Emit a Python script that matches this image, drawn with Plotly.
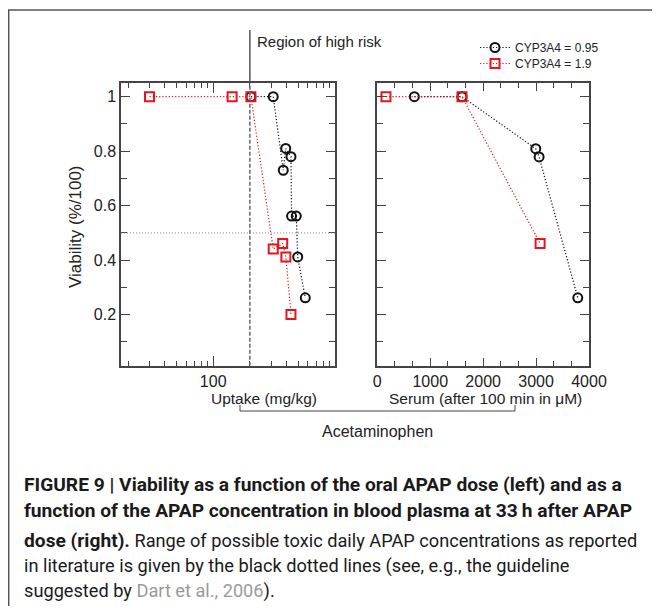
import plotly.graph_objects as go

# ---------------- data ----------------
# Left panel: oral uptake (mg/kg) vs viability
uptake_cyp095 = [204, 311, 376, 394, 435, 440, 481, 494, 570]
viab_uptake_cyp095 = [1.0, 1.0, 0.73, 0.81, 0.78, 0.562, 0.562, 0.412, 0.262]
uptake_cyp19 = [30, 143, 204, 311, 372, 395, 435]
viab_uptake_cyp19 = [1.0, 1.0, 1.0, 0.441, 0.461, 0.412, 0.201]

# Right panel: serum concentration (uM) vs viability
serum_cyp095 = [700, 1600, 2994, 3057, 3788]
viab_serum_cyp095 = [1.0, 1.0, 0.809, 0.779, 0.262]
serum_cyp19 = [164, 1600, 3076]
viab_serum_cyp19 = [1.0, 1.0, 0.461]

high_risk_uptake = 200      # mg/kg
viability_threshold = 0.5

series_names = ["CYP3A4 = 0.95", "CYP3A4 = 1.9"]
y_major = [0.2, 0.4, 0.6, 0.8, 1.0]
y_major_text = ["0.2", "0.4", "0.6", "0.8", "1"]
y_minor = [0.1, 0.3, 0.5, 0.7, 0.9]
x_log_major = [100]
x_log_minor = [20, 30, 40, 50, 60, 70, 80, 90, 200, 300, 400, 500, 600, 700, 800, 900]
x_lin_major = [0, 1000, 2000, 3000, 4000]
x_lin_minor = [333.3, 666.7, 1333.3, 1666.7, 2333.3, 2666.7, 3333.3, 3666.7]

# ---------------- styling ----------------
# the page body has an 8px margin; keep the figure fully inside the window
OFF = 8
W, H = 644, 598
FONT = "Liberation Sans"
CAPFONT = "Roboto"
AX = "#444444"
BLACK = "#111111"
RED = "#e8141c"


def px_x(p):
    return (p - OFF) / W


def px_y(p):
    return 1 - (p - OFF) / H


fig = go.Figure()

black_marker = dict(symbol="circle-open", size=9, color=BLACK, line=dict(width=2, color=BLACK))
red_marker = dict(symbol="square-open", size=9, color=RED, line=dict(width=2, color=RED))
DOT = "1.2px,2px"

fig.add_trace(go.Scatter(x=uptake_cyp095, y=viab_uptake_cyp095, mode="lines+markers",
                         name=series_names[0], marker=black_marker, legend="legend",
                         line=dict(color=BLACK, width=1.2, dash=DOT),
                         xaxis="x", yaxis="y"))
fig.add_trace(go.Scatter(x=serum_cyp095, y=viab_serum_cyp095, mode="lines+markers",
                         name=series_names[0], marker=black_marker, showlegend=False,
                         line=dict(color=BLACK, width=1.2, dash=DOT),
                         xaxis="x2", yaxis="y2"))
fig.add_trace(go.Scatter(x=uptake_cyp19, y=viab_uptake_cyp19, mode="lines+markers",
                         name=series_names[1], marker=red_marker, legend="legend2",
                         line=dict(color=RED, width=1.2, dash=DOT),
                         xaxis="x", yaxis="y"))
fig.add_trace(go.Scatter(x=serum_cyp19, y=viab_serum_cyp19, mode="lines+markers",
                         name=series_names[1], marker=red_marker, showlegend=False,
                         line=dict(color=RED, width=1.2, dash=DOT),
                         xaxis="x2", yaxis="y2"))

ydom = [px_y(365.7), px_y(83.3)]
yrange = [0.013, 1.049]

common_axis = dict(showline=True, linecolor=AX, linewidth=1.5, mirror="ticks",
                   ticks="inside", tickcolor=AX, tickwidth=1.2, ticklen=9,
                   showgrid=False, zeroline=False, automargin=False,
                   tickfont=dict(family=FONT, size=16, color="#222"))

legend_style = dict(xanchor="left", yanchor="top",
                    font=dict(family=FONT, size=12, color="#222"),
                    bgcolor="rgba(0,0,0,0)", itemwidth=30)

fig.update_layout(
    width=W, height=H,
    margin=dict(l=0, r=0, t=0, b=0, autoexpand=False),
    paper_bgcolor="white", plot_bgcolor="white",
    showlegend=True,
    legend=dict(legend_style, x=px_x(475), y=px_y(33)),
    legend2=dict(legend_style, x=px_x(475), y=px_y(49)),
    xaxis=dict(common_axis, type="log", domain=[px_x(121), px_x(335)],
               range=[1.243, 3.0], tickmode="array", tickvals=x_log_major,
               ticktext=["100"], anchor="y", ticklen=10,
               minor=dict(tickmode="array", tickvals=x_log_minor, ticks="inside",
                          ticklen=5, tickcolor=AX, tickwidth=1.2)),
    yaxis=dict(common_axis, domain=ydom, range=yrange, tickmode="array",
               tickvals=y_major, ticktext=y_major_text, anchor="x",
               minor=dict(tickmode="array", tickvals=y_minor, ticks="inside",
                          ticklen=6, tickcolor=AX, tickwidth=1.2)),
    xaxis2=dict(common_axis, domain=[px_x(377.3), px_x(589)], range=[0, 4000],
                tickmode="array", tickvals=x_lin_major,
                ticktext=[str(v) for v in x_lin_major], anchor="y2", ticklen=8,
                minor=dict(tickmode="array", tickvals=x_lin_minor, ticks="inside",
                           ticklen=5, tickcolor=AX, tickwidth=1.2)),
    yaxis2=dict(common_axis, domain=ydom, range=yrange, tickmode="array",
                tickvals=y_major, showticklabels=False, anchor="x2",
                minor=dict(tickmode="array", tickvals=y_minor, ticks="inside",
                           ticklen=6, tickcolor=AX, tickwidth=1.2)),
)

shapes = []
# high risk vertical line: solid above plot, dashed inside
shapes.append(dict(type="line", xref="x", yref="paper", x0=high_risk_uptake, x1=high_risk_uptake,
                   y0=px_y(83.3), y1=px_y(30), line=dict(color="#555", width=1.5)))
shapes.append(dict(type="line", xref="x", yref="y", x0=high_risk_uptake, x1=high_risk_uptake,
                   y0=yrange[0], y1=yrange[1], line=dict(color="#666", width=1.5, dash="4px,2px")))
# viability threshold dotted horizontal
shapes.append(dict(type="line", xref="x domain", yref="y", x0=0, x1=1,
                   y0=viability_threshold, y1=viability_threshold,
                   line=dict(color="#888", width=1, dash="1px,2px")))
# bracket
shapes.append(dict(type="path", xref="paper", yref="paper",
                   path=f"M {px_x(240)},{px_y(405)} L {px_x(240)},{px_y(411)} L {px_x(515)},{px_y(411)} L {px_x(515)},{px_y(405)}",
                   line=dict(color="#444", width=1)))
# outer frame
shapes.append(dict(type="path", xref="paper", yref="paper",
                   path=f"M {px_x(8.7)},{px_y(620)} L {px_x(8.7)},{px_y(10)} L {px_x(670)},{px_y(10)}",
                   line=dict(color="#555", width=1.5)))
fig.update_layout(shapes=shapes)

ann = []


def add_text(text, x, y, size, xanchor="left", font=FONT, color="#222", angle=0):
    ann.append(dict(text=text, x=px_x(x), y=px_y(y), xref="paper", yref="paper",
                    xanchor=xanchor, yanchor="middle", showarrow=False, textangle=angle,
                    borderpad=0, font=dict(family=font, size=size, color=color)))


add_text("Region of high risk", 256, 42, 15)
add_text("Viability (%/100)", 75, 227, 17, xanchor="center", angle=-90)
add_text("Uptake (mg/kg)", 264, 398, 15.5, xanchor="center")
add_text("Serum (after 100 min in μM)", 485, 398, 15.5, xanchor="center")
add_text("Acetaminophen", 377, 431, 16, xanchor="center")

B = "<span style='font-size:19.2px'><b>{}</b></span>"
cap_lines = [
    B.format("FIGURE 9 | Viability as a function of the oral APAP dose (left) and as a"),
    B.format("function of the APAP concentration in blood plasma at 33\u2009h after APAP"),
    B.format("dose (right).") + " Range of possible toxic daily APAP concentrations as reported",
    "in literature is given by the black dotted lines (see, e.g., the guideline",
    "suggested by <span style='color:#9a9a9a'>Dart et al., 2006</span>).",
]
cap_y = [484, 510, 540, 566, 591]
for t, yy in zip(cap_lines, cap_y):
    add_text(t, 23, yy, 18.2, font=CAPFONT, color="#1a1a1a")

fig.update_layout(annotations=ann)

fig.write_html("out.html")
